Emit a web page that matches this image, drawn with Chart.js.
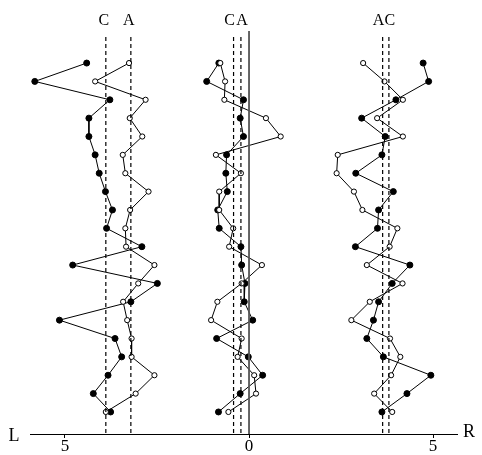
<!DOCTYPE html>
<html>
<head>
<meta charset="utf-8">
<script src="https://cdn.jsdelivr.net/npm/chart.js@4/dist/chart.umd.min.js"></script>
<style>
  html, body { margin: 0; padding: 0; background: #fff; }
  #wrap { width: 482px; height: 455px; position: relative; }
</style>
</head>
<body>
<div id="wrap"><canvas id="c"></canvas></div>
<script>
'use strict';

// Row positions (top to bottom)
const ROWS = [0, 1, 2, 3, 4, 5, 6, 7, 8, 9, 10, 11, 12, 13, 14, 15, 16, 17, 18, 19];

// Left group
const LEFT_FILLED = [-4.41, -5.82, -3.78, -4.35, -4.35, -4.18, -4.07, -3.90, -3.71, -3.87,
                     -2.91, -4.79, -2.49, -3.21, -5.15, -3.64, -3.46, -3.83, -4.23, -3.76];
const LEFT_OPEN   = [-3.26, -4.18, -2.81, -3.24, -2.90, -3.43, -3.36, -2.73, -3.23, -3.36,
                     -3.34, -2.57, -3.01, -3.42, -3.31, -3.19, -3.19, -2.57, -3.08, -3.89];
// Middle group
const MID_FILLED  = [-0.82, -1.15, -0.15, -0.24, -0.15, -0.61, -0.63, -0.59, -0.85, -0.81,
                     -0.22, -0.20, -0.11, -0.13, 0.10, -0.88, -0.02, 0.37, -0.24, -0.83];
const MID_OPEN    = [-0.78, -0.65, -0.67, 0.46, 0.86, -0.90, -0.22, -0.81, -0.81, -0.43,
                     -0.54, 0.35, -0.20, -0.86, -1.03, -0.20, -0.31, 0.14, 0.19, -0.56];
// Right group
const RIGHT_FILLED = [4.73, 4.88, 3.99, 3.06, 3.70, 3.61, 2.90, 3.92, 3.52, 3.49,
                      2.89, 4.37, 3.89, 3.52, 3.38, 3.20, 3.65, 4.94, 4.29, 3.61];
const RIGHT_OPEN   = [3.10, 3.68, 4.18, 3.48, 4.18, 2.41, 2.38, 2.85, 3.08, 4.03,
                      3.82, 3.20, 4.17, 3.28, 2.78, 3.83, 4.11, 3.86, 3.40, 3.89];

// Reference lines (label, x value)
const REF_LABELS = ['C', 'A', 'C', 'A', 'A', 'C'];
const REF_VALUES = [-3.89, -3.21, -0.42, -0.22, 3.63, 3.80];
const ZERO_LINE  = 0;

const X_TICKS = [-5, 0, 5];

const serif = '"Liberation Serif", "DejaVu Serif", serif';

function pts(xs) { return xs.map((x, i) => ({ x, y: ROWS[i] })); }

function series(xs, filled) {
  return {
    data: pts(xs),
    borderColor: '#000',
    borderWidth: 1,
    pointRadius: filled ? 3 : 2.6,
    pointBorderWidth: 1,
    pointBackgroundColor: filled ? '#000' : '#fff',
    pointBorderColor: '#000',
    showLine: true,
    tension: 0
  };
}

function vline(x, dashed) {
  return {
    data: [{ x, y: dashed ? -1.42 : -1.75 }, { x, y: 20.2 }],
    borderColor: dashed ? '#000' : '#555',
    borderWidth: dashed ? 1.2 : 1.8,
    borderDash: dashed ? [4, 3] : [],
    pointRadius: 0,
    showLine: true
  };
}

const datasets = [];
REF_VALUES.forEach(v => datasets.push(vline(v, true)));
datasets.push(vline(ZERO_LINE, false));
[[LEFT_FILLED, LEFT_OPEN], [MID_FILLED, MID_OPEN], [RIGHT_FILLED, RIGHT_OPEN]].forEach(([f, o]) => {
  datasets.push(series(o, false));
  datasets.push(series(f, true));
});

// top letters above the dashed lines, L / R at the ends of the axis
const annot = {
  id: 'annot',
  afterDraw(chart) {
    const { ctx, scales: { x }, chartArea } = chart;
    ctx.save();
    ctx.fillStyle = '#000';
    ctx.textAlign = 'center';
    ctx.textBaseline = 'middle';
    ctx.font = '16px ' + serif;
    const offs = [-2, -2, -4, 1, -4, 1];
    REF_VALUES.forEach((v, i) => {
      ctx.fillText(REF_LABELS[i], x.getPixelForValue(v) + offs[i], 21);
    });
    ctx.font = '18px ' + serif;
    ctx.fillText('L', 14, chartArea.bottom + 2);
    ctx.fillText('R', 469, chartArea.bottom - 2);
    ctx.restore();
  }
};

new Chart(document.getElementById('c'), {
  type: 'scatter',
  data: { datasets },
  plugins: [annot],
  options: {
    responsive: true,
    maintainAspectRatio: false,
    animation: false,
    layout: { padding: { left: 30, right: 25, top: 30, bottom: 0 } },
    plugins: { legend: { display: false }, tooltip: { enabled: false } },
    scales: {
      x: {
        type: 'linear',
        min: -5.95,
        max: 5.65,
        afterBuildTicks: s => { s.ticks = X_TICKS.map(v => ({ value: v })); },
        grid: { drawOnChartArea: false, drawTicks: true, tickLength: 4, color: '#000' },
        border: { display: true, color: '#000', width: 1 },
        ticks: {
          color: '#000',
          padding: 0,
          maxRotation: 0,
          font: { family: serif, size: 17, lineHeight: 1 },
          callback: v => String(Math.abs(v))
        }
      },
      y: {
        type: 'linear',
        display: false,
        reverse: true,
        min: -1.8,
        max: 20.2
      }
    }
  }
});
</script>
</body>
</html>
